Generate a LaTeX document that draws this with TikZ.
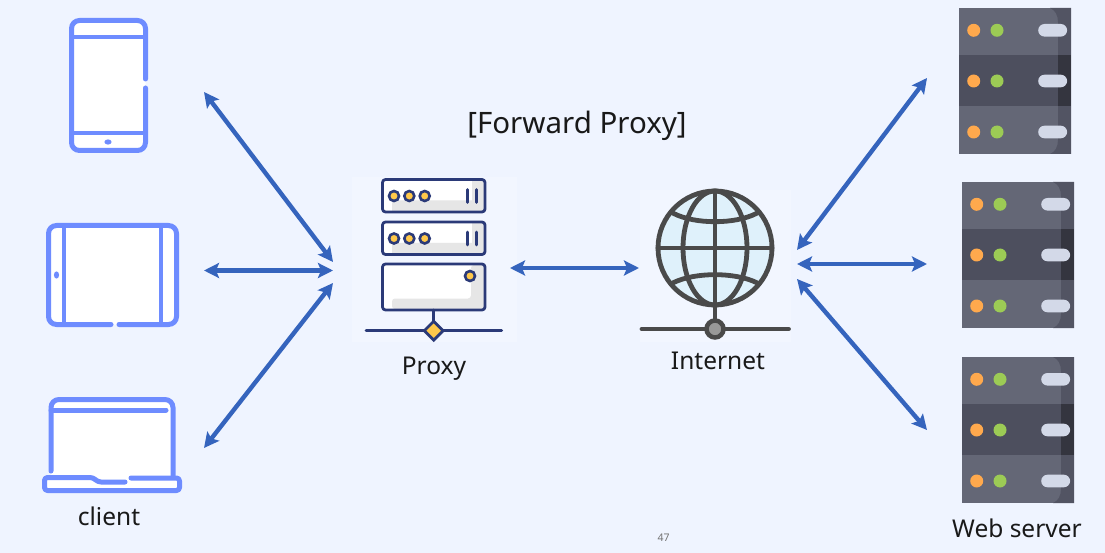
\documentclass[tikz,border=0pt]{standalone}
\usepackage{fontspec}
\setmainfont{Noto Sans}
\usepackage{tikz}
\usetikzlibrary{arrows.meta,shapes.geometric}
\definecolor{slidebg}{HTML}{EFF4FF}
\definecolor{devblue}{HTML}{6E8CFF}
\definecolor{linkblue}{HTML}{3564BD}
\definecolor{navy}{HTML}{2B3A78}
\definecolor{amber}{HTML}{FFC84A}
\definecolor{iconshade}{HTML}{E6E6E6}
\definecolor{globeline}{HTML}{4A4A4A}
\definecolor{globesea}{HTML}{DFF1FB}
\definecolor{racktop}{HTML}{646776}
\definecolor{rackmid}{HTML}{4D4F5E}
\definecolor{racktopdark}{HTML}{525463}
\definecolor{rackmiddark}{HTML}{34353F}
\definecolor{rackorange}{HTML}{FFA94D}
\definecolor{rackgreen}{HTML}{9CCB55}
\definecolor{rackpill}{HTML}{D3D9E8}
\tikzset{
  link/.style={{Stealth[length=15pt,width=15pt,inset=3pt]}-{Stealth[length=15pt,width=15pt,inset=3pt]},line width=4.4pt,linkblue},
  devline/.style={line width=5pt,devblue,line cap=round,line join=round},
  navyline/.style={line width=2.8pt,navy,line cap=round,line join=round},
  globepen/.style={line width=4.8pt,globeline,line cap=round},
  caption/.style={inner sep=0pt,text=black!90,font=\fontsize{24.5}{28}\selectfont},
}
% one rack of three units, #1 = x offset, #2 = y offset
\newcommand{\serverrack}[2]{%
\begin{scope}[shift={(#1,#2)}]
\fill[racktop] (959,8) rectangle (1071,154);
\fill[racktopdark] (1050,8) .. controls (1055,10) and (1058,15) .. (1058,22) -- (1058,140) .. controls (1058,147) and (1055,152) .. (1050,154) -- (1071,154) -- (1071,8) -- cycle;
\fill[rackmid] (959,55) rectangle (1058,106);
\fill[rackmiddark] (1058,55) rectangle (1071,106);
\foreach \y in {30.3,81,132} {
\fill[rackorange] (973.7,\y) circle (6.5);
\fill[rackgreen] (997,\y) circle (6.5);
\fill[rackpill] (1044.5,\y-6.3) -- (1060.8,\y-6.3) arc[start angle=90,end angle=-90,x radius=6.3,y radius=-6.3] -- (1044.5,\y+6.3) arc[start angle=-90,end angle=-270,x radius=6.3,y radius=-6.3] -- cycle;
}
\end{scope}}

\begin{document}
\begin{tikzpicture}[x=1pt,y=-1pt]
\useasboundingbox (0,0) rectangle (1105,553);
\fill[slidebg] (0,0) rectangle (1105,553);
% phone
\fill[white,rounded corners=8pt] (71.5,20.5) rectangle (145.5,150.5);
\draw[devline,rounded corners=8pt] (145.5,79) -- (145.5,20.5) -- (71.5,20.5) -- (71.5,150.5) -- (145.5,150.5) -- (145.5,88);
\draw[line width=4.5pt,devblue] (71.5,37) -- (145.5,37) (71.5,133) -- (145.5,133);
\fill[devblue] (108,142) ellipse (3.6 and 2.6);
% tablet
\fill[white,rounded corners=8pt] (48.5,225.5) rectangle (176.5,324.5);
\draw[devline,rounded corners=8pt] (111,324.5) -- (48.5,324.5) -- (48.5,225.5) -- (176.5,225.5) -- (176.5,324.5) -- (119,324.5);
\draw[line width=4.5pt,devblue] (64,225.5) -- (64,324.5) (161,225.5) -- (161,324.5);
\fill[devblue] (56.5,275) ellipse (2.6 and 3.6);
% laptop
\fill[white,rounded corners=8pt] (50.5,399.5) rectangle (173.5,490);
\fill[white,rounded corners=4pt] (44.5,477.5) rectangle (179.5,490.5);
\draw[devline,rounded corners=8pt] (51,471) -- (51,399.5) -- (173,399.5) -- (173,477);
\draw[devline] (51,410) -- (166,410);
\draw[devline,rounded corners=3pt] (125,482) -- (98,482) -- (93,477.5) -- (44.5,477.5) -- (44.5,490.5) -- (179.5,490.5) -- (179.5,478) -- (131,478);
% proxy
\fill[white!18!slidebg] (352,177) rectangle (517,342);
\foreach \y/\h in {179.5/32.5,222/32.5} {
\fill[white,rounded corners=3pt] (382.5,\y) rectangle ++(102.5,\h);
\fill[iconshade] (392,\y+21) -- (472,\y+21) -- (472,\y+1) -- (484,\y+1) -- (484,\y+\h-1) -- (392,\y+\h-1) -- cycle;
\draw[navyline,rounded corners=3pt] (382.5,\y) rectangle ++(102.5,\h);
\foreach \x in {394,409.3,424.7} {\draw[line width=2.6pt,navy,fill=amber] (\x,\y+16.5) circle (5);}
\draw[navyline] (467.3,\y+10) -- (467.3,\y+23) (476.7,\y+10) -- (476.7,\y+23);
}
\fill[white,rounded corners=3pt] (382.5,264) rectangle (485,310);
\fill[iconshade,rounded corners=3pt] (392,309) -- (392,298.5) -- (471,298.5) -- (471,265) -- (484,265) -- (484,309) -- cycle;
\draw[navyline,rounded corners=3pt] (382.5,264) rectangle (485,310);
\draw[line width=2.6pt,navy,fill=amber] (470,276) circle (5);
\draw[navyline] (433.7,310) -- (433.7,322) (366,330.7) -- (501.7,330.7);
\node[diamond,draw=navy,fill=amber,line width=2.8pt,minimum size=20pt,inner sep=0pt] (switch) at (433.7,330.7) {};
\node[caption] (proxylabel) at (434,368.5) {Proxy};
% internet
\fill[white!18!slidebg] (640,190) rectangle (791,342);
\draw[globepen,fill=globesea] (715,248) circle (57);
\draw[globepen] (715,248) ellipse (32 and 57);
\draw[globepen] (715,191) -- (715,318) (658,248) -- (772,248);
\draw[globepen] (673.3,213.3) .. controls (695,224.5) and (735,224.5) .. (756.7,213.3);
\draw[globepen] (673.3,282.7) .. controls (695,272) and (735,272) .. (756.7,282.7);
\draw[globepen] (642,329) -- (788.5,329);
\node[circle,draw=globeline,fill=black!40,line width=4.5pt,minimum size=17pt,inner sep=0pt] (hub) at (715,329) {};
\node[caption] (internetlabel) at (718,361) {Internet};
% web servers
\serverrack{0}{0}
\serverrack{3}{174}
\serverrack{3}{349}
% labels
\node[inner sep=0pt,text=black!90,font=\fontsize{29.5}{34}\selectfont] (title) at (577,125.5) {[Forward Proxy]};
\node[caption] (clientlabel) at (109,516) {client};
\node[caption] (weblabel) at (1017,528) {Web server};
\node[inner sep=0pt,text=black!55,font=\fontsize{10.5}{12}\selectfont] (pagenum) at (663.5,537.5) {47};
% link ends
\coordinate (phone) at (204,92);
\coordinate (tablet) at (204,270.5);
\coordinate (laptop) at (204,448);
\coordinate (proxyinA) at (333,262);
\coordinate (proxyinB) at (333,270.5);
\coordinate (proxyinC) at (333,283);
\coordinate (proxyout) at (510,268);
\coordinate (netin) at (639,268);
\coordinate (netoutA) at (797,250);
\coordinate (netoutB) at (797,264);
\coordinate (netoutC) at (797,279);
\coordinate (webA) at (927,78);
\coordinate (webB) at (927,264);
\coordinate (webC) at (927,430);
% links
\draw[link] (phone) -- (proxyinA);
\draw[link] (tablet) -- (proxyinB);
\draw[link] (laptop) -- (proxyinC);
\draw[link] (proxyout) -- (netin);
\draw[link] (netoutA) -- (webA);
\draw[link] (netoutB) -- (webB);
\draw[link] (netoutC) -- (webC);
\end{tikzpicture}
\end{document}
